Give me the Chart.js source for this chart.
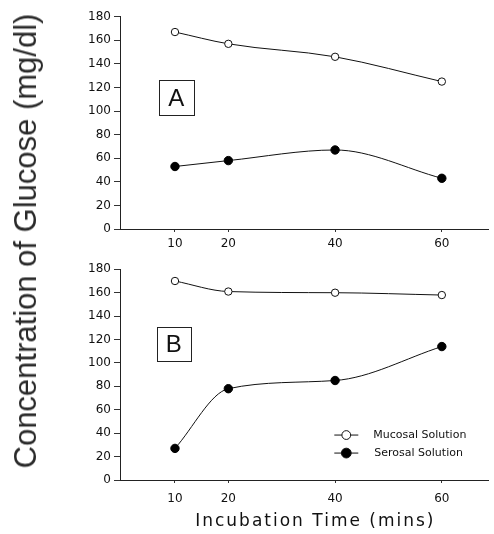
<!DOCTYPE html>
<html>
<head>
<meta charset="utf-8">
<script src="https://cdn.jsdelivr.net/npm/chart.js@4/dist/chart.umd.min.js"></script>
<style>
  body { margin: 0; background: #fff; }
  #wrap { position: relative; width: 494px; height: 534px; overflow: hidden; }
  #chartA { position: absolute; left: 0; top: 0; }
  #chartB { position: absolute; left: 0; top: 255px; }
  #ytitle {
    position: absolute; left: 26px; top: 241px;
    transform: translate(-50%, -50%) rotate(-90deg);
    white-space: nowrap;
    font: 31px "Liberation Sans", Arial, sans-serif;
    color: #2a2a2a;
  }
</style>
</head>
<body>
<div id="wrap">
  <canvas id="chartA" width="494" height="255"></canvas>
  <canvas id="chartB" width="494" height="279"></canvas>
  <div id="ytitle">Concentration of Glucose (mg/dl)</div>
</div>
<script>
// valores
const tiempos = [10, 20, 40, 60];
const ticksX = [10, 20, 40, 60];
const ticksY = [0, 20, 40, 60, 80, 100, 120, 140, 160, 180];
const mucosaA = [167, 157, 146, 125];
const serosaA = [53, 58, 67, 43];
const mucosaB = [170, 161, 160, 158];
const serosaB = [27, 78, 85, 114];
const nombres = ['Mucosal Solution', 'Serosal Solution'];
const tituloX = 'Incubation Time (mins)';

const fuente = '"DejaVu Sans", sans-serif';

function puntos(valores) {
  return tiempos.map(function (t, i) { return { x: t, y: valores[i] }; });
}

function series(muc, ser) {
  return [
    {
      label: nombres[0], data: puntos(muc),
      borderColor: '#111', borderWidth: 1, cubicInterpolationMode: 'monotone',
      pointRadius: 3.7, pointBorderWidth: 1,
      pointBackgroundColor: '#fff', pointBorderColor: '#111'
    },
    {
      label: nombres[1], data: puntos(ser),
      borderColor: '#111', borderWidth: 1, cubicInterpolationMode: 'monotone',
      pointRadius: 4.2, pointBorderWidth: 1,
      pointBackgroundColor: '#000', pointBorderColor: '#000'
    }
  ];
}

// cuadro con la letra del panel, leyenda y titulo del eje x
const decorado = {
  id: 'decorado',
  afterDraw: function (chart, args, opts) {
    const ctx = chart.ctx;
    const sx = chart.scales.x, sy = chart.scales.y;
    const x0 = sx.getPixelForValue(opts.caja[0]), x1 = sx.getPixelForValue(opts.caja[1]);
    const y0 = sy.getPixelForValue(opts.caja[2]), y1 = sy.getPixelForValue(opts.caja[3]);
    ctx.save();
    ctx.strokeStyle = '#222';
    ctx.lineWidth = 1;
    ctx.strokeRect(Math.round(x0) + 0.5, Math.round(y1) + 0.5, Math.round(x1 - x0), Math.round(y0 - y1));
    ctx.fillStyle = '#111';
    ctx.font = '24px "Liberation Sans", Arial, sans-serif';
    ctx.textAlign = 'center';
    ctx.textBaseline = 'middle';
    ctx.fillText(opts.letra, (x0 + x1) / 2, (y0 + y1) / 2 + 1);

    if (opts.leyenda) {
      const lx = sx.getPixelForValue(opts.leyenda[0]);
      ctx.font = '11px ' + fuente;
      ctx.textAlign = 'left';
      chart.data.datasets.forEach(function (ds, i) {
        const ly = sy.getPixelForValue(opts.leyenda[1 + i]);
        ctx.beginPath();
        ctx.moveTo(lx - 12, ly);
        ctx.lineTo(lx + 12, ly);
        ctx.strokeStyle = '#111';
        ctx.stroke();
        ctx.beginPath();
        ctx.arc(lx, ly, ds.pointRadius + 0.7, 0, Math.PI * 2);
        ctx.fillStyle = ds.pointBackgroundColor;
        ctx.fill();
        ctx.stroke();
        ctx.fillStyle = '#111';
        ctx.fillText(ds.label, lx + 27 + i, ly);
      });
    }

    if (opts.titulo) {
      ctx.letterSpacing = '2px';
      ctx.font = '17px ' + fuente;
      ctx.textAlign = 'center';
      ctx.fillStyle = '#111';
      ctx.fillText(opts.titulo, sx.getPixelForValue(36.3), chart.height - 12);
    }
    ctx.restore();
  }
};

function opciones(altoX, padTop, padTicks, deco) {
  return {
    responsive: false,
    animation: false,
    layout: { padding: { top: padTop, left: 0, right: 0, bottom: 0 } },
    plugins: { legend: { display: false }, tooltip: { enabled: false }, decorado: deco },
    scales: {
      x: {
        type: 'linear', min: -0.3, max: 68.8,
        afterBuildTicks: function (s) { s.ticks = ticksX.map(function (v) { return { value: v }; }); },
        afterFit: function (s) { s.height = altoX; },
        grid: { drawOnChartArea: false, tickLength: 3, color: '#333' },
        border: { color: '#222', width: 1 },
        ticks: { color: '#111', font: { family: fuente, size: 12 }, padding: padTicks, maxRotation: 0, autoSkip: false }
      },
      y: {
        min: 0, max: 180,
        afterBuildTicks: function (s) { s.ticks = ticksY.map(function (v) { return { value: v }; }); },
        afterFit: function (s) { s.width = 120; },
        grid: { drawOnChartArea: false, tickLength: 6, color: '#333' },
        border: { color: '#222', width: 1 },
        ticks: { color: '#111', font: { family: fuente, size: 12 }, padding: 3 }
      }
    }
  };
}

new Chart(document.getElementById('chartA'), {
  type: 'line',
  data: { datasets: series(mucosaA, serosaA) },
  options: opciones(26, 16.7, 5, { letra: 'A', caja: [7, 13.5, 96, 126] }),
  plugins: [decorado]
});

new Chart(document.getElementById('chartB'), {
  type: 'line',
  data: { datasets: series(mucosaB, serosaB) },
  options: opciones(54, 14.3, 9,
    { letra: 'B', caja: [6.6, 12.9, 101.7, 130.7], leyenda: [42.1, 38.4, 23], titulo: tituloX }),
  plugins: [decorado]
});
</script>
</body>
</html>
